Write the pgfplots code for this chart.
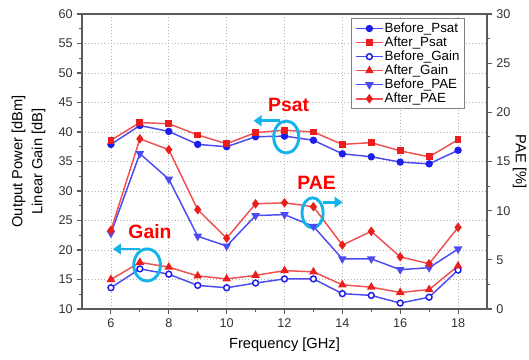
\documentclass[border=0pt]{standalone}
\usepackage{fontspec}
\setmainfont{Liberation Sans}
\usepackage{pgfplots}
\pgfplotsset{compat=1.18}
\usetikzlibrary{arrows.meta,calc}
\definecolor{myblue}{RGB}{30,30,235}
\definecolor{mybluel}{RGB}{75,75,240}
\definecolor{myred}{RGB}{235,30,30}
\definecolor{myredl}{RGB}{240,80,80}
\definecolor{anncol}{RGB}{20,180,235}
\definecolor{axgray}{RGB}{90,90,90}
\tikzset{annt/.style={font=\bfseries\fontsize{14.5}{16}\selectfont, text=red}}
\begin{document}
\begin{tikzpicture}
\pgfplotsset{
 common/.style={
  width=303.75pt, height=221.25pt, scale only axis,
  xmin=5, xmax=19,
  tick align=outside,
  major tick length=3.5pt, minor tick length=2pt,
  axis line style={axgray, line width=1.3pt},
  every tick/.style={axgray, line width=0.8pt},
  tick label style={font=\fontsize{9.5}{11}\selectfont, text=black!80},
  label style={font=\fontsize{11}{15}\selectfont},
  /pgf/number format/assume math mode=true,
 },
 bl/.style={mybluel, line width=1.1pt, mark options={solid, fill=myblue, draw=myblue}},
 rd/.style={myredl, line width=1.1pt, mark options={solid, fill=myred, draw=myred}},
}
\begin{axis}[common,
  ymin=10, ymax=60, ytick={10,15,...,60}, minor y tick num=1,
  xtick={6,8,...,18}, minor x tick num=1,
  xtick pos=bottom, ytick pos=left,
  grid=major, grid style={dotted, gray!60, line width=0.6pt},
  xlabel={Frequency [GHz]}, xlabel shift=1pt,
  ylabel={Output Power [dBm]\\Linear Gain [dB]}, ylabel style={align=center}, ylabel shift=3pt,
  legend style={at={(0.946,0.985)}, anchor=north east, draw=gray, line width=0.6pt,
    font=\fontsize{10}{11}\selectfont, inner xsep=3pt, inner ysep=2pt, nodes={inner sep=0.9pt}},
  legend cell align=left,
  legend image code/.code={\draw[mark repeat=2,mark phase=2] plot coordinates {(0pt,0pt) (10pt,0pt) (20pt,0pt)};},
]
\addplot[bl, mark=*, mark size=2.2pt] coordinates {(6,37.9)(7,41.1)(8,40.1)(9,37.9)(10,37.5)(11,39.2)(12,39.3)(13,38.6)(14,36.3)(15,35.8)(16,34.9)(17,34.6)(18,36.9)};
\addlegendentry{Before\_Psat}
\addplot[rd, mark=square*, mark size=2pt] coordinates {(6,38.6)(7,41.6)(8,41.4)(9,39.5)(10,38.0)(11,39.9)(12,40.3)(13,40.0)(14,37.9)(15,38.2)(16,36.8)(17,35.8)(18,38.7)};
\addlegendentry{After\_Psat}
\addplot[bl, mark=*, mark size=2.2pt, mark options={solid, fill=white, draw=myblue}] coordinates {(6,13.6)(7,16.8)(8,15.9)(9,14.0)(10,13.6)(11,14.4)(12,15.1)(13,15.1)(14,12.6)(15,12.3)(16,11.0)(17,12.0)(18,16.6)};
\addlegendentry{Before\_Gain}
\addplot[rd, mark=triangle*, mark size=2.7pt] coordinates {(6,15.0)(7,17.9)(8,17.1)(9,15.6)(10,15.1)(11,15.7)(12,16.5)(13,16.3)(14,14.1)(15,13.7)(16,12.8)(17,13.3)(18,17.3)};
\addlegendentry{After\_Gain}
\addlegendimage{bl, mark=triangle*, mark size=2.7pt, mark options={rotate=180}}
\addlegendentry{Before\_PAE}
\addlegendimage{rd, mark=diamond*, mark size=2.7pt}
\addlegendentry{After\_PAE}
\end{axis}
\begin{axis}[common,
  ymin=0, ymax=30, ytick={0,5,...,30}, minor y tick num=1,
  axis y line*=right, axis x line=none,
  ylabel={PAE [\%]}, ylabel style={rotate=180}, ylabel shift=-5pt,
]
\addplot[bl, mark=triangle*, mark size=2.7pt, mark options={rotate=180}] coordinates {(6,7.7)(7,15.8)(8,13.2)(9,7.4)(10,6.4)(11,9.5)(12,9.6)(13,8.4)(14,5.1)(15,5.1)(16,4.0)(17,4.2)(18,6.1)};
\addplot[rd, mark=diamond*, mark size=2.7pt] coordinates {(6,8.0)(7,17.3)(8,16.2)(9,10.1)(10,7.2)(11,10.7)(12,10.8)(13,10.4)(14,6.5)(15,7.9)(16,5.3)(17,4.6)(18,8.3)};
% annotations
\node[annt] at (axis cs:12.14,20.76) {Psat};
\draw[anncol, line width=2.2pt] (axis cs:12.06,17.49) ellipse [x radius=9.4pt, y radius=12pt];
\draw[anncol, line width=2.2pt, -{Triangle[length=6pt,width=8pt]}] (axis cs:11.83,19.14) -- (axis cs:10.93,19.14);
\node[annt] at (axis cs:13.11,12.84) {PAE};
\draw[anncol, line width=2.2pt] (axis cs:12.97,9.78) ellipse [x radius=7.9pt, y radius=11.3pt];
\draw[anncol, line width=2.2pt, -{Triangle[length=6pt,width=8pt]}] (axis cs:13.32,10.86) -- (axis cs:14.01,10.86);
\node[annt] at (axis cs:7.35,7.83) {Gain};
\draw[anncol, line width=2.2pt] (axis cs:7.25,4.48) ellipse [x radius=10pt, y radius=12pt];
\draw[anncol, line width=2.2pt, -{Triangle[length=6pt,width=8pt]}] (axis cs:7.0,6.10) -- (axis cs:6.07,6.10);
\end{axis}
\pgfresetboundingbox
\path[use as bounding box] ($(current axis.south west)+(-61.5pt,-38.25pt)$) rectangle ($(current axis.north east)+(31.5pt,10.5pt)$);
\end{tikzpicture}
\end{document}
